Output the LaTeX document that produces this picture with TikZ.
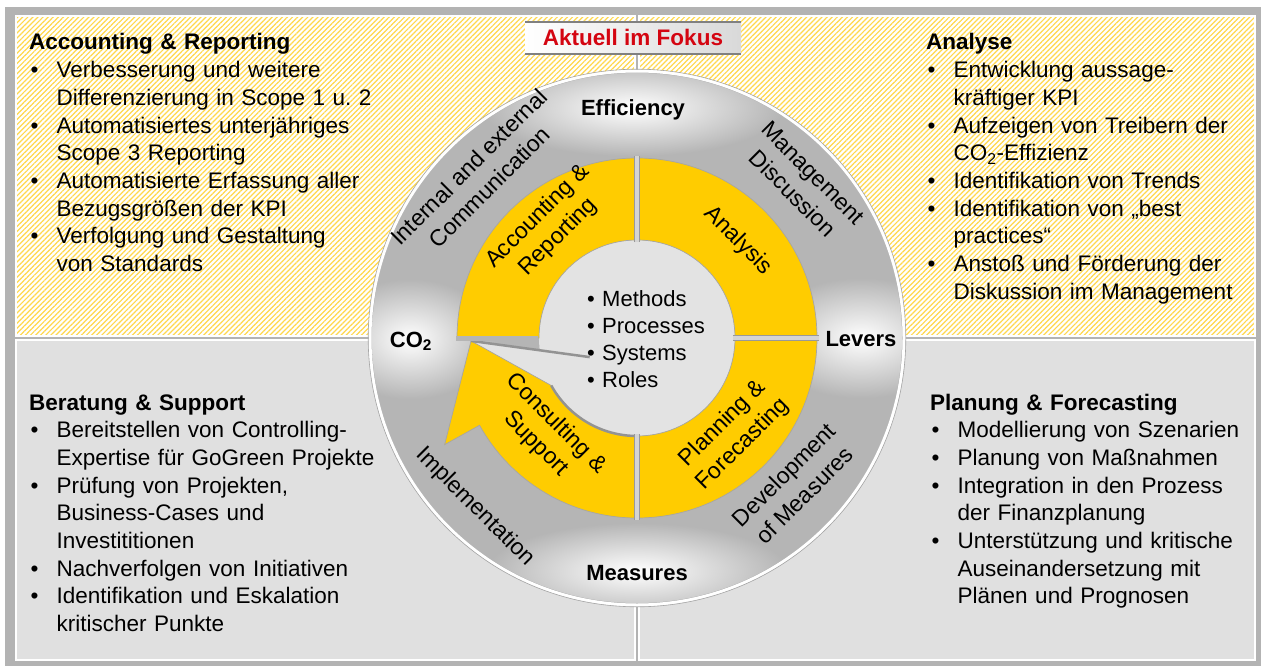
\documentclass[tikz,border=0pt]{standalone}
\usepackage{fontspec}
\setmainfont{Liberation Sans}
\usetikzlibrary{patterns.meta}

\definecolor{framegray}{HTML}{B3B3B3}
\definecolor{panelgray}{HTML}{E0E0E0}
\definecolor{diskgray}{HTML}{E3E3E3}
\definecolor{hatchyellow}{HTML}{FFD84D}
\definecolor{ringgray}{HTML}{B5B5B5}
\definecolor{segyellow}{HTML}{FFCC00}
\definecolor{gapgray}{HTML}{D4D4D4}
\definecolor{fokusred}{HTML}{D40511}

\newcommand{\bp}{\makebox[27.5pt][l]{\hspace{1.5pt}\textbullet}}
\newcommand{\ind}{\hspace*{27.5pt}}

\begin{document}
\begin{tikzpicture}[x=1pt,y=-1pt,
  panel/.style={draw=white,line width=2pt},
  hatch/.style={panel,preaction={fill=white},
    pattern={Lines[angle=45,distance=3.6pt,line width=1.2pt]},pattern color=hatchyellow},
  blocktext/.style={anchor=base west,inner sep=0pt,text width=420pt,align=left,
    font=\fontsize{22.5}{27.7}\selectfont},
  ringtext/.style={inner sep=0pt,align=center,font=\fontsize{23}{29}\selectfont},
  keyword/.style={inner sep=0pt,anchor=base,font=\fontsize{22}{26}\selectfont\bfseries},
  seg/.style={fill=segyellow,draw=gray!70,line width=0.7pt},
  divider/.style={draw=gray!80,line width=0.8pt,double=gapgray,double distance=4pt}]

\useasboundingbox (0,0) rectangle (1261,666);
\fill[white] (0,0) rectangle (1261,666);
\fill[framegray] (5,7) rectangle (1261,666);
\draw[hatch] (16,16) rectangle (635,336);
\draw[hatch] (639,16) rectangle (1255,336);
\draw[panel,fill=panelgray] (16,340) rectangle (635,660);
\draw[panel,fill=panelgray] (639,340) rectangle (1255,660);

\shade[left color=white,right color=gray!30] (525,22) rectangle (741,54);
\draw[black!50,line width=2pt] (525,22) -- (741,22) (525,54) -- (741,54);
\node[inner sep=0pt,anchor=base,font=\fontsize{22.5}{26}\selectfont\bfseries,text=fokusred]
  (fokus) at (633,46) {Aktuell im Fokus};

\draw[white,line width=3pt,fill=ringgray] (637,338) circle[radius=267];
\draw[gray!70,line width=0.6pt] (637,338) circle[radius=268.8];
\begin{scope}
\clip (637,338) circle[radius=265];
\foreach \gx/\gy/\gw/\gh in {633/108/150/48,637/571/150/48,410/339/85/60,861/338/100/60}
  \shade[inner color=white,outer color=ringgray] (\gx-\gw,\gy-\gh) rectangle (\gx+\gw,\gy+\gh);
\end{scope}

\begin{scope}[shift={(637,338)},y=1pt]
\fill[diskgray] (0,0) circle[radius=98];
\fill[diskgray] (181:166) -- (209:98) -- (202:51) -- cycle;
\foreach \a in {0,90,270}
  \draw[seg] (\a:98) -- (\a:180) arc[start angle=\a,delta angle=90,radius=180]
    -- ({\a+90}:98) arc[start angle=\a+90,delta angle=-90,radius=98] -- cycle;
\draw[seg] (270:98) -- (270:180) arc[start angle=270,end angle=209,radius=180]
  -- (209:220) -- (181:166) -- (209:98) arc[start angle=209,end angle=270,radius=98] -- cycle;
\draw[gray!85,line width=2.5pt] (181:166) -- (202:51);
\draw[gray!85,line width=2.5pt] (209:98) arc[start angle=209,end angle=270,radius=98];
\foreach \a in {0,90,270}
  \draw[divider] (\a:96) -- (\a:182);
\draw[ringgray,line width=5pt] (180:99) -- (180:181);
\end{scope}

\node[ringtext,rotate=45] (comm) at (479,177) {Internal and external\\Communication};
\node[ringtext,rotate=-45] (mgmt) at (803,183) {Management\\Discussion};
\node[ringtext,rotate=-45] (impl) at (475,507) {Implementation};
\node[ringtext,rotate=45] (devm) at (794,485) {Development\\of Measures};
\node[ringtext,rotate=45] (acc) at (548,227) {Accounting \&\\Reporting};
\node[ringtext,rotate=-45] (ana) at (738,241) {Analysis};
\node[ringtext,rotate=-45] (cons) at (546,434) {Consulting \&\\Support};
\node[ringtext,rotate=45] (plan) at (733,434) {Planning \&\\Forecasting};

\node[keyword] (eff) at (633,116) {Efficiency};
\node[keyword] (meas) at (637,580) {Measures};
\node[keyword] (co) at (411,347) {CO\textsubscript{2}};
\node[keyword] (lev) at (861,346) {Levers};

\node[blocktext,text width=160pt,font=\fontsize{22}{27.3}\selectfont] (mpsr) at (587,306)
  {\textbullet\ Methods\\ \textbullet\ Processes\\ \textbullet\ Systems\\ \textbullet\ Roles};

\node[blocktext] (accrep) at (29,50) {\textbf{Accounting \& Reporting}\\
\bp Verbesserung und weitere\\
\ind Differenzierung in Scope 1 u.\ 2\\
\bp Automatisiertes unterjähriges\\
\ind Scope 3 Reporting\\
\bp Automatisierte Erfassung aller\\
\ind Bezugsgrößen der KPI\\
\bp Verfolgung und Gestaltung\\
\ind von Standards};

\node[blocktext] (analyse) at (926,50) {\textbf{Analyse}\\
\bp Entwicklung aussage-\\
\ind kräftiger KPI\\
\bp Aufzeigen von Treibern der\\
\ind CO\textsubscript{2}-Effizienz\\
\bp Identifikation von Trends\\
\bp Identifikation von „best\\
\ind practices“\\
\bp Anstoß und Förderung der\\
\ind Diskussion im Management};

\node[blocktext] (beratung) at (29,410) {\textbf{Beratung \& Support}\\
\bp Bereitstellen von Controlling-\\
\ind Expertise für GoGreen Projekte\\
\bp Prüfung von Projekten,\\
\ind Business-Cases und\\
\ind Investititionen\\
\bp Nachverfolgen von Initiativen\\
\bp Identifikation und Eskalation\\
\ind kritischer Punkte};

\node[blocktext] (planung) at (930,410) {\textbf{Planung \& Forecasting}\\
\bp Modellierung von Szenarien\\
\bp Planung von Maßnahmen\\
\bp Integration in den Prozess\\
\ind der Finanzplanung\\
\bp Unterstützung und kritische\\
\ind Auseinandersetzung mit\\
\ind Plänen und Prognosen};
\end{tikzpicture}
\end{document}
